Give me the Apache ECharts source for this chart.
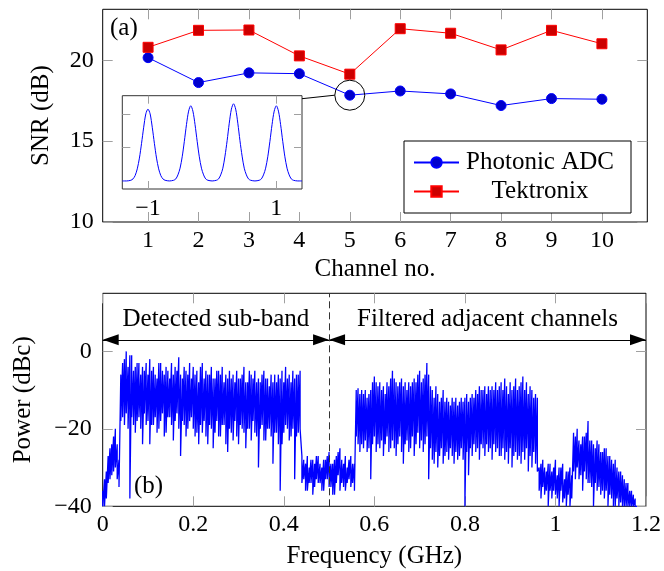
<!DOCTYPE html>
<html>
<head>
<meta charset="utf-8">
<script src="https://cdn.jsdelivr.net/npm/echarts@6/dist/echarts.min.js"></script>
<style>
  html, body { margin: 0; padding: 0; background: #fff; }
  #chart { width: 664px; height: 571px; }
</style>
</head>
<body>
<div id="chart"></div>
<script>
// (a) SNR per channel
const channels = [1, 2, 3, 4, 5, 6, 7, 8, 9, 10];
const photonicSnr = [20.16, 18.62, 19.22, 19.17, 17.84, 18.1, 17.92, 17.2, 17.63, 17.59];
const tektronixSnr = [20.8, 21.85, 21.87, 20.27, 19.14, 21.95, 21.67, 20.64, 21.85, 21.02];
const snrTicks = [10, 15, 20];
const zoomChannel = 5;

// inset: sampled pulse train, x from insetStart in steps of insetStep
const insetStart = -1.4;
const insetStep = 1 / 30;
const insetPulse = [
  0, 0, 0, 0.003, 0.01, 0.03, 0.08, 0.18, 0.34, 0.56, 0.8, 1.0, 1.07, 1.0, 0.8, 0.56, 0.34, 0.18, 0.08, 0.03, 0.01, 0.003,
  0, 0.003, 0.01, 0.03, 0.09, 0.19, 0.36, 0.59, 0.84, 1.04, 1.12, 1.04, 0.84, 0.59, 0.36, 0.19, 0.09, 0.03, 0.01, 0.003,
  0, 0.003, 0.01, 0.03, 0.09, 0.19, 0.37, 0.6, 0.86, 1.07, 1.15, 1.07, 0.86, 0.6, 0.37, 0.19, 0.09, 0.03, 0.01, 0.003,
  0, 0.003, 0.01, 0.03, 0.09, 0.19, 0.36, 0.59, 0.84, 1.04, 1.12, 1.04, 0.84, 0.59, 0.36, 0.19, 0.09, 0.03, 0.01, 0.003,
  0, 0, 0
];
const insetXTicks = [-1, 1];
const insetYTicks = [0.5, 1];

// (b) spectrum: per frequency bin (index * freqStep GHz) the highest and lowest power read
const freqStep = 0.004;
const powerHigh = [
  -36, -33, -31, -27, -25, -24, -22, -20, -24, -28,
  -6, -3, -2, 0, -4, -1, -1, -5, -4, -3,
  -3, -6, -4, -5, -3, -6, -2, -5, -4, -6,
  -7, -3, -3, -5, -6, -4, -5, -7, -3, -6,
  -4, -5, -1.5, -6, -7, -4, -5, -6, -3, -7,
  -4, -6, -5, -8, -4, -3, -7, -5, -6, -6,
  -4, -7, -7, -5, -5, -6, -4, -8, -6, -7,
  -5, -7, -6, -8, -5, -7, -7, -6, -4, -8,
  -8, -5, -6, -7, -5, -8, -7, -8, -6, -5,
  -7, -7, -9, -6, -8, -6, -8, -6, -7, -5,
  -8, -4, -7, -6, -8, -5, -7, -6, -6, -5,
  -27, -28, -29, -27, -30, -28, -28, -29, -27, -27,
  -29, -30, -28, -28, -27, -26, -29, -29, -28, -27,
  -26, -25, -28, -29, -27, -30, -28, -27, -29, -29,
  -10, -9.5, -11, -10, -11, -10, -12, -11, -10, -8,
  -6.5, -8, -9, -8, -10, -9, -11, -8, -9, -7,
  -5, -7, -8, -9, -8, -7, -9, -8, -10, -8,
  -9, -8, -7, -8, -6, -5, -8, -7, -6, -3,
  -6, -9, -10, -12, -9, -11, -13, -12, -10, -13,
  -12, -13, -14, -12, -13, -12, -14, -13, -12, -13,
  -12, -11, -13, -12, -11, -12, -10, -11, -9, -10,
  -10, -9, -11, -9, -10, -9, -10, -8, -10, -9,
  -8, -10, -7, -9, -11, -8, -10, -9, -7, -10,
  -9, -8, -6.5, -10, -8, -11, -9, -10, -12, -11,
  -12, -30, -29, -28, -30, -31, -29, -29, -31, -30,
  -28, -32, -30, -30, -29, -33, -31, -31, -30, -32,
  -21, -22, -20, -23, -24, -22, -22, -21, -18, -23,
  -23, -24, -25, -23, -24, -26, -26, -25, -25, -27,
  -27, -28, -29, -28, -30, -31, -31, -32, -33, -34,
  -34, -36, -36, -37, -38, -40
];
const powerLow = [
  -40, -40, -38, -34, -33, -32, -31, -30, -33, -35,
  -18, -17, -19, -16, -20, -38, -17, -19, -21, -18,
  -17, -20, -24, -16, -19, -18, -24, -19, -19, -17,
  -21, -20, -18, -16, -22, -21, -17, -17, -19, -23,
  -18, -16, -20, -27, -18, -19, -22, -20, -18, -17,
  -20, -22, -21, -24, -19, -21, -18, -22, -24, -19,
  -20, -25, -21, -18, -22, -22, -19, -19, -24, -26,
  -20, -21, -23, -18, -22, -24, -19, -20, -21, -25,
  -20, -20, -23, -18, -21, -22, -30, -20, -19, -23,
  -23, -20, -20, -22, -29, -21, -21, -24, -36, -24,
  -21, -19, -20, -23, -22, -20, -33, -22, -21, -20,
  -34, -33, -36, -36, -34, -34, -37, -35, -33, -34,
  -34, -36, -36, -33, -33, -35, -35, -37, -37, -34,
  -32, -36, -34, -35, -36, -34, -33, -35, -34, -36,
  -22, -24, -26, -24, -25, -23, -26, -25, -33, -24,
  -22, -26, -24, -25, -23, -27, -24, -22, -26, -25,
  -23, -25, -27, -24, -22, -26, -29, -24, -23, -26,
  -25, -22, -27, -24, -21, -25, -23, -26, -24, -22,
  -33, -25, -28, -29, -26, -30, -27, -25, -29, -27,
  -26, -28, -25, -27, -29, -26, -28, -27, -25, -28,
  -40, -26, -32, -25, -27, -24, -26, -25, -28, -24,
  -25, -27, -24, -26, -25, -28, -24, -26, -25, -27,
  -27, -25, -28, -26, -29, -25, -30, -27, -26, -28,
  -27, -29, -26, -28, -25, -31, -27, -30, -26, -29,
  -31, -36, -38, -35, -37, -36, -40, -36, -38, -36,
  -37, -38, -40, -36, -39, -38, -40, -37, -40, -38,
  -31, -33, -30, -33, -32, -36, -31, -33, -34, -34,
  -35, -40, -34, -36, -35, -37, -36, -38, -36, -40,
  -37, -38, -40, -40, -38, -40, -39, -40, -40, -40,
  -40, -40, -40, -40, -40, -40
];
const freqTicks = [0, 0.2, 0.4, 0.6, 0.8, 1, 1.2];
const powerTicks = [-40, -20, 0];
const subBandEdge = 0.5;
const bandEnd = 1.2;
const arrowLevel = 3;

const FONT = 'Liberation Serif';
const TICK = '#a0a0a0';
const minus = v => String(v).replace('-', '\u2212');

// sweep each bin from its high to its low value
const spectrum = [];
powerHigh.forEach((hi, i) => {
  const f = i * freqStep;
  spectrum.push([f, hi], [f, powerLow[i]]);
});

const chart = echarts.init(document.getElementById('chart'));

function tickAxis(opts) {
  return Object.assign({
    type: 'value',
    axisLine: { show: false, onZero: false },
    splitLine: { show: false },
    axisLabel: { show: false },
  }, opts);
}

function ticks(values, length) {
  return { inside: true, length: length, lineStyle: { color: TICK, width: 1 }, customValues: values };
}

const labelStyle = { color: '#000', fontSize: 24, fontFamily: FONT };
const nameStyle = { color: '#000', fontSize: 25, fontFamily: FONT };

chart.setOption({
  animation: false,
  grid: [
    { left: 102.7, top: 9.3, width: 544.6, height: 212.7, show: true, borderColor: '#000', borderWidth: 1 },
    { left: 102.7, top: 293.3, width: 544.6, height: 213, show: true, borderColor: '#000', borderWidth: 1 },
    { left: 122.3, top: 95.7, width: 179.7, height: 93.3, show: true, borderColor: '#333', borderWidth: 1, backgroundColor: '#fff' },
  ],
  xAxis: [
    tickAxis({
      gridIndex: 0, min: 0.1, max: 10.9, position: 'bottom',
      axisTick: ticks(channels, 10),
      axisLabel: Object.assign({ customValues: channels, margin: 7 }, labelStyle),
      name: 'Channel no.', nameLocation: 'middle', nameGap: 35, nameTextStyle: nameStyle,
    }),
    tickAxis({ gridIndex: 0, min: 0.1, max: 10.9, position: 'top', axisTick: ticks(channels, 10) }),
    tickAxis({
      gridIndex: 1, min: 0, max: 1.2, position: 'bottom',
      axisTick: ticks(freqTicks, 10),
      axisLabel: Object.assign({ customValues: freqTicks, margin: 6 }, labelStyle),
      name: 'Frequency (GHz)', nameLocation: 'middle', nameGap: 38, nameTextStyle: nameStyle,
    }),
    tickAxis({ gridIndex: 1, min: 0, max: 1.2, position: 'top', axisTick: ticks(freqTicks, 10) }),
    tickAxis({
      gridIndex: 2, min: -1.4, max: 1.4, position: 'bottom',
      axisTick: ticks(insetXTicks, 8),
      axisLabel: Object.assign({ customValues: insetXTicks, margin: 8, formatter: minus }, labelStyle),
    }),
    tickAxis({ gridIndex: 2, min: -1.4, max: 1.4, position: 'top', axisTick: ticks(insetXTicks, 8) }),
  ],
  yAxis: [
    tickAxis({
      gridIndex: 0, min: 10, max: 23.15, position: 'left',
      axisTick: ticks(snrTicks, 10),
      axisLabel: Object.assign({ customValues: snrTicks, margin: 9 }, labelStyle),
      name: 'SNR (dB)', nameLocation: 'middle', nameRotate: 90, nameGap: 49, nameTextStyle: nameStyle,
    }),
    tickAxis({ gridIndex: 0, min: 10, max: 23.15, position: 'right', axisTick: ticks(snrTicks, 10) }),
    tickAxis({
      gridIndex: 1, min: -40, max: 15, position: 'left',
      axisTick: ticks(powerTicks, 10),
      axisLabel: Object.assign({ customValues: powerTicks, margin: 11, formatter: minus }, labelStyle),
      name: 'Power (dBc)', nameLocation: 'middle', nameRotate: 90, nameGap: 67, nameTextStyle: nameStyle,
    }),
    tickAxis({ gridIndex: 1, min: -40, max: 15, position: 'right', axisTick: ticks(powerTicks, 10) }),
    tickAxis({ gridIndex: 2, min: -0.12, max: 1.27, position: 'left', axisTick: ticks(insetYTicks, 8) }),
    tickAxis({ gridIndex: 2, min: -0.12, max: 1.27, position: 'right', axisTick: ticks(insetYTicks, 8) }),
  ],
  legend: {
    data: ['Photonic ADC', 'Tektronix'],
    orient: 'vertical',
    left: 404, top: 141,
    padding: [9, 15, 9, 9],
    itemWidth: 45, itemHeight: 13, itemGap: 4,
    borderColor: '#000', borderWidth: 1, borderRadius: 0, backgroundColor: '#fff',
    formatter: name => '{t|' + name + '}',
    textStyle: {
      rich: { t: { width: 152, align: 'center', lineHeight: 26, fontSize: 25, fontFamily: FONT, color: '#000' } },
    },
  },
  series: [
    {
      name: 'Photonic ADC', type: 'line', xAxisIndex: 0, yAxisIndex: 0,
      data: channels.map((c, i) => [c, photonicSnr[i]]),
      symbol: 'circle', symbolSize: 10,
      lineStyle: { color: '#0000ff', width: 1 },
      itemStyle: { color: '#0000cc', borderColor: '#0000ff', borderWidth: 1 },
      z: 3,
    },
    {
      name: 'Tektronix', type: 'line', xAxisIndex: 0, yAxisIndex: 0,
      data: channels.map((c, i) => [c, tektronixSnr[i]]),
      symbol: 'rect', symbolSize: 10,
      lineStyle: { color: '#ff0000', width: 1 },
      itemStyle: { color: '#cc0000', borderColor: '#ff0000', borderWidth: 1 },
      z: 3,
    },
    {
      name: 'spectrum', type: 'line', xAxisIndex: 2, yAxisIndex: 2,
      data: spectrum,
      showSymbol: false, silent: true,
      lineStyle: { color: '#0000ff', width: 1.3 },
    },
    {
      name: 'bands', type: 'line', xAxisIndex: 2, yAxisIndex: 2, data: [],
      markLine: {
        silent: true,
        symbol: ['triangle', 'triangle'],
        symbolSize: [11, 16],
        symbolOffset: [[0, 8], [0, 8]],
        lineStyle: { color: '#000', width: 1, type: 'solid' },
        label: { show: true, position: 'middle', distance: 8, formatter: '{b}', color: '#000', fontSize: 25, fontFamily: FONT },
        data: [
          [{ name: 'Detected sub-band', coord: [0, arrowLevel] }, { coord: [subBandEdge, arrowLevel] }],
          [{ name: 'Filtered adjacent channels', coord: [subBandEdge, arrowLevel] }, { coord: [bandEnd, arrowLevel] }],
        ],
      },
    },
    {
      name: 'edge', type: 'line', xAxisIndex: 2, yAxisIndex: 2, data: [],
      markLine: {
        silent: true, symbol: 'none',
        lineStyle: { color: '#333', width: 1, type: [7, 4] },
        label: { show: false },
        data: [{ xAxis: subBandEdge }],
      },
    },
    {
      name: 'inset', type: 'line', xAxisIndex: 4, yAxisIndex: 4,
      data: insetPulse.map((v, k) => [insetStart + k * insetStep, v]),
      showSymbol: false, silent: true, smooth: 0.3,
      lineStyle: { color: '#0000ff', width: 1 },
    },
  ],
});

const center = chart.convertToPixel({ seriesIndex: 0 }, [zoomChannel, photonicSnr[zoomChannel - 1]]);
const corner = chart.convertToPixel({ seriesIndex: 5 }, [1.4, 1.27]);
const ringR = 15;

chart.setOption({
  graphic: [
    { type: 'circle', shape: { cx: center[0], cy: center[1], r: ringR }, style: { fill: 'none', stroke: '#000', lineWidth: 1 }, z: 10 },
    { type: 'line', shape: { x1: corner[0], y1: corner[1] + 3, x2: center[0] - ringR, y2: center[1] }, style: { stroke: '#000', lineWidth: 1 }, z: 10 },
    { type: 'text', left: 110, top: 16, style: { text: '(a)', font: '25px "Liberation Serif"', fill: '#000' }, z: 10 },
    { type: 'text', left: 134, top: 474, style: { text: '(b)', font: '25px "Liberation Serif"', fill: '#000' }, z: 10 },
  ],
});
</script>
</body>
</html>
